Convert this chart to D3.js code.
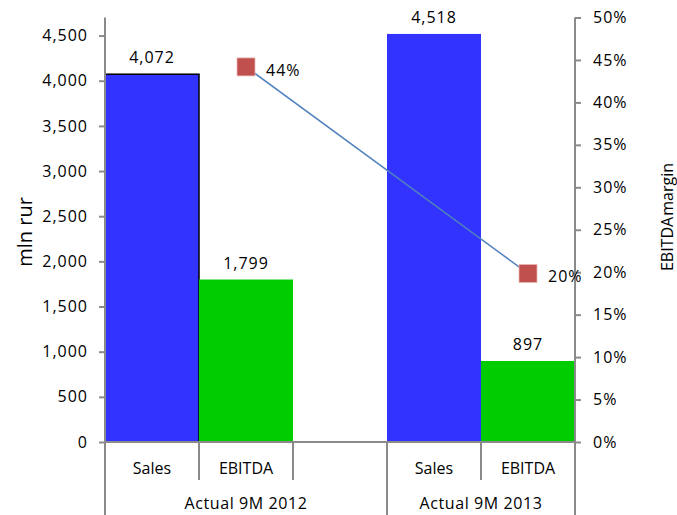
<!DOCTYPE html>
<html>
<head>
<meta charset="utf-8">
<script src="https://cdn.jsdelivr.net/npm/d3@7"></script>
<style>
  html, body { margin: 0; padding: 0; background: #fff; }
  svg { display: block; font-family: "Open Sans", sans-serif; }
  .num { letter-spacing: 1px; }
</style>
</head>
<body>
<svg id="chart" width="677" height="515"></svg>
<script>
// Sales and EBITDA, mln rur, with EBITDA margin on the secondary axis
const periods = ["Actual 9M 2012", "Actual 9M 2013"];
const subCategories = [["Sales", "EBITDA", ""], ["Sales", "EBITDA"]];
const salesValues = [4072, 4518];
const ebitdaValues = [1799, 897];
const marginValues = [0.4418, 0.1985];
const leftTicks = [0, 500, 1000, 1500, 2000, 2500, 3000, 3500, 4000, 4500];
const rightTicks = [0, 0.05, 0.10, 0.15, 0.20, 0.25, 0.30, 0.35, 0.40, 0.45, 0.50];

const W = 677, H = 515;
const plot = { left: 105, right: 575, top: 17.5, bottom: 442 };
const axisColor = "#8a8a8a";
const textColor = "#000";

const svg = d3.select("#chart");

// one slot per sub-category, grouped by period
const slots = [];
subCategories.forEach((subs, g) => subs.forEach((s, i) => slots.push({ key: g + "-" + i, g, i, label: s })));

const x = d3.scaleBand().domain(slots.map(d => d.key)).range([plot.left, plot.right]).padding(0);
const y = d3.scaleLinear().domain([0, 4700]).range([plot.bottom, plot.top]);
const y2 = d3.scaleLinear().domain([0, 0.5]).range([plot.bottom, plot.top]);

// bars
const bars = [];
periods.forEach((p, g) => {
  bars.push({ key: g + "-0", value: salesValues[g], kind: "sales", g });
  bars.push({ key: g + "-1", value: ebitdaValues[g], kind: "ebitda", g });
});

svg.append("g").selectAll("rect").data(bars).join("rect")
  .attr("x", d => x(d.key))
  .attr("width", x.bandwidth())
  .attr("y", d => y(d.value))
  .attr("height", d => y(0) - y(d.value))
  .attr("fill", d => d.kind === "sales" ? "#3333ff" : "#00cc00")
  .attr("stroke", d => (d.kind === "sales" && d.g === 0) ? "#000" : "none")
  .attr("stroke-width", 1.5);

// bar value labels
svg.append("g").selectAll("text").data(bars).join("text")
  .attr("class", "num")
  .attr("x", d => x(d.key) + x.bandwidth() / 2)
  .attr("y", d => y(d.value) - 11)
  .attr("text-anchor", "middle")
  .attr("font-size", 16)
  .attr("fill", textColor)
  .text(d => d3.format(",")(d.value));

// left axis
const gl = svg.append("g").attr("transform", `translate(${plot.left},0)`)
  .call(d3.axisLeft(y).tickValues(leftTicks).tickSize(6).tickSizeOuter(0).tickPadding(11).tickFormat(d3.format(",")));
gl.select(".domain").remove();
gl.selectAll(".tick line").attr("stroke", axisColor).attr("stroke-width", 2);
gl.selectAll(".tick text").attr("class", "num").attr("font-size", 16).attr("fill", textColor).attr("font-family", "Open Sans");

// right axis
const gr = svg.append("g").attr("transform", `translate(${plot.right},0)`)
  .call(d3.axisRight(y2).tickValues(rightTicks).tickSize(6).tickSizeOuter(0).tickPadding(12).tickFormat(d3.format(".0%")));
gr.select(".domain").remove();
gr.selectAll(".tick line").attr("stroke", axisColor).attr("stroke-width", 2);
gr.selectAll(".tick text").attr("class", "num").attr("font-size", 16).attr("fill", textColor).attr("font-family", "Open Sans");

// axis lines and category separators
const lines = svg.append("g").attr("stroke", axisColor).attr("stroke-width", 2);
lines.append("line").attr("x1", plot.left).attr("x2", plot.left).attr("y1", plot.top).attr("y2", H);
lines.append("line").attr("x1", plot.right).attr("x2", plot.right).attr("y1", plot.top).attr("y2", H);
lines.append("line").attr("x1", plot.left).attr("x2", plot.right).attr("y1", plot.bottom).attr("y2", plot.bottom);
slots.forEach(s => {
  const xs = x(s.key);
  if (xs === plot.left) return;
  const full = s.i === 0;
  lines.append("line").attr("x1", xs).attr("x2", xs).attr("y1", plot.bottom).attr("y2", full ? H : 480);
});

// sub-category labels
svg.append("g").selectAll("text").data(slots.filter(s => s.label)).join("text")
  .attr("x", d => x(d.key) + x.bandwidth() / 2)
  .attr("y", 468)
  .attr("dy", "0.35em")
  .attr("text-anchor", "middle")
  .attr("font-size", 16)
  .attr("fill", textColor)
  .text(d => d.label);

// period labels
svg.append("g").selectAll("text").data(periods).join("text")
  .attr("x", (d, g) => {
    const keys = slots.filter(s => s.g === g).map(s => s.key);
    return (x(keys[0]) + x(keys[keys.length - 1]) + x.bandwidth()) / 2;
  })
  .attr("y", 503)
  .attr("dy", "0.35em")
  .attr("text-anchor", "middle")
  .attr("font-size", 16)
  .attr("letter-spacing", "0.6px")
  .attr("fill", textColor)
  .text(d => d);

// axis titles
svg.append("text")
  .attr("transform", `translate(32,232) rotate(-90)`)
  .attr("text-anchor", "middle")
  .attr("font-size", 20)
  .attr("fill", textColor)
  .text("mln rur");

svg.append("text")
  .attr("transform", `translate(673,217) rotate(-90)`)
  .attr("text-anchor", "middle")
  .attr("font-size", 16)
  .attr("word-spacing", "-3px")
  .attr("fill", textColor)
  .text("EBITDA margin");

// EBITDA margin line, drawn at the EBITDA columns
const pts = periods.map((p, g) => ({
  cx: x(g + "-1") + x.bandwidth() / 2,
  cy: y2(marginValues[g]),
  v: marginValues[g]
}));

svg.append("path")
  .datum(pts)
  .attr("fill", "none")
  .attr("stroke", "#4f81bd")
  .attr("stroke-width", 1.5)
  .attr("d", d3.line().x(d => d.cx).y(d => d.cy));

const ms = 18;
svg.append("g").selectAll("rect").data(pts).join("rect")
  .attr("x", d => d.cx - ms / 2)
  .attr("y", d => d.cy - ms / 2)
  .attr("width", ms)
  .attr("height", ms)
  .attr("fill", "#c0504d")
  .attr("stroke", "#e6b9b8")
  .attr("stroke-width", 0.75);

svg.append("g").selectAll("text").data(pts).join("text")
  .attr("class", "num")
  .attr("x", d => d.cx + 20)
  .attr("y", d => d.cy + 9)
  .attr("font-size", 16)
  .attr("fill", textColor)
  .text(d => d3.format(".0%")(d.v));
</script>
</body>
</html>
